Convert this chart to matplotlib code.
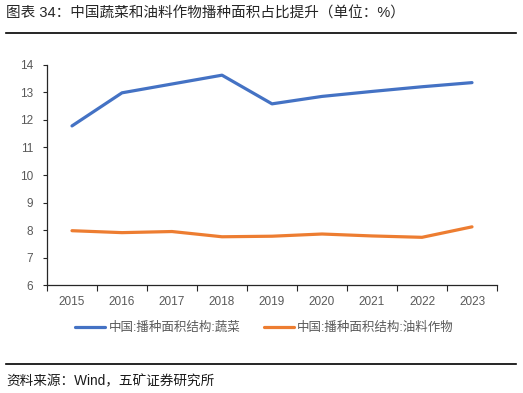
import matplotlib
matplotlib.use("Agg")
from matplotlib import pyplot as plt
import numpy

plt.rcParams['font.family'] = ['Liberation Sans', 'Noto Sans CJK SC', 'DejaVu Sans']

years = ['2015', '2016', '2017', '2018', '2019', '2020', '2021', '2022', '2023']
vegetables = [11.78, 12.98, 13.30, 13.62, 12.58, 12.85, 13.03, 13.20, 13.35]
oilCrops = [7.98, 7.91, 7.95, 7.76, 7.78, 7.86, 7.79, 7.74, 8.12]

title = '图表 34：中国蔬菜和油料作物播种面积占比提升（单位：%）'
source = '资料来源：Wind，五矿证券研究所'
vegLabel = '中国:播种面积结构:蔬菜'
oilLabel = '中国:播种面积结构:油料作物'

fig = plt.figure(figsize=(5.23, 3.93), dpi=100)
ax = fig.add_axes([47 / 523, 1 - 285.3 / 393, 450 / 523, 220.6 / 393])

x = numpy.arange(len(years))
ax.plot(x, vegetables, color='#4472C4', linewidth=2.3, label=vegLabel, solid_capstyle='round')
ax.plot(x, oilCrops, color='#ED7D31', linewidth=2.3, label=oilLabel, solid_capstyle='round')

ax.set_xlim(-0.5, len(years) - 0.5)
ax.set_ylim(6, 14)
ax.set_yticks(range(6, 15))
ax.set_xticks(x)
ax.set_xticklabels(years)
# category ticks sit on the bin edges, labels in the middle
ax.set_xticks(numpy.arange(-0.5, len(years)), minor=True)
ax.tick_params(axis='x', which='major', length=0, pad=8, labelsize=8.5, labelcolor='#595959')
ax.tick_params(axis='x', which='minor', length=4, width=0.8, color='#262626')
ax.tick_params(axis='y', length=3, width=0.8, color='#262626', labelsize=8.5, labelcolor='#595959', pad=7)

for side in ['top', 'right']:
    ax.spines[side].set_visible(False)
for side in ['left', 'bottom']:
    ax.spines[side].set_color('#262626')
    ax.spines[side].set_linewidth(0.9)

leg = fig.legend(loc='center', bbox_to_anchor=(0.506, 1 - 328 / 393), ncol=2, frameon=False,
                 fontsize=9, handlelength=2.4, columnspacing=1.9, handletextpad=0.25)
for t in leg.get_texts():
    t.set_color('#595959')

fig.text(6 / 523, 1 - 14 / 393, title, fontsize=10.5, va='center', ha='left', color='#262626')
fig.add_artist(plt.Line2D([6 / 523, 516 / 523], [1 - 33 / 393, 1 - 33 / 393], color='black', linewidth=1.2))
fig.add_artist(plt.Line2D([6 / 523, 516 / 523], [1 - 364 / 393, 1 - 364 / 393], color='black', linewidth=1.2))
fig.text(6 / 523, 1 - 381 / 393, source, fontsize=9.8, va='center', ha='left', color='#1a1a1a')

fig.savefig('out.png', dpi=100)
